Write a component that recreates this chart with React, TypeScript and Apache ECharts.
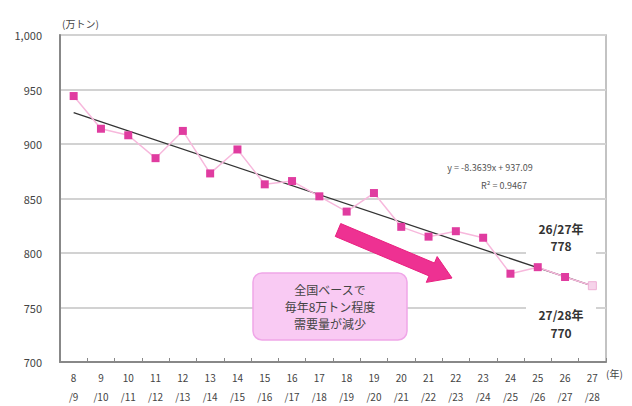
import React, { useEffect, useRef } from "react";
import * as echarts from "echarts";

const categories = [
  "8\n/9", "9\n/10", "10\n/11", "11\n/12", "12\n/13", "13\n/14", "14\n/15",
  "15\n/16", "16\n/17", "17\n/18", "18\n/19", "19\n/20", "20\n/21", "21\n/22",
  "22\n/23", "23\n/24", "24\n/25", "25\n/26", "26\n/27", "27\n/28",
];
const actual = [944, 914, 908, 887, 912, 873, 895, 863, 866, 852, 838, 855, 824, 815, 820, 814, 781, 787, 778];
const forecast = [778, 770];
const trendEnds = [928.7, 769.8];
const yTicks = [700, 750, 800, 850, 900, 950, 1000];

export default function App() {
  const ref = useRef<HTMLDivElement>(null);
  useEffect(() => {
    document.body.style.margin = "0";
    const chart = echarts.init(ref.current!, null, { renderer: "svg" });
    const n = categories.length;
    const actualData = categories.map((_, i) => (i < actual.length ? actual[i] : null));
    const forecastData: any[] = categories.map(() => null);
    forecastData[n - 2] = { value: forecast[0], symbol: "none" };
    forecastData[n - 1] = forecast[1];
    const trendData: any[] = categories.map(() => null);
    trendData[0] = trendEnds[0];
    trendData[n - 1] = trendEnds[1];
    const font = "'Noto Sans CJK JP', 'Noto Sans', sans-serif";

    // arrow geometry
    const S = [338, 230], T = [452, 278];
    const dx = T[0] - S[0], dy = T[1] - S[1];
    const L = Math.hypot(dx, dy);
    const u = [dx / L, dy / L], nn = [-u[1], u[0]];
    const H = [S[0] + u[0] * (L - 22), S[1] + u[1] * (L - 22)];
    const p = (b: number[], k: number) => [b[0] + nn[0] * k, b[1] + nn[1] * k];
    const arrowPts = [p(S, 7), p(S, -7), p(H, -7), p(H, -14), T, p(H, 14), p(H, 7)];

    chart.setOption({
      animation: false,
      backgroundColor: "#fff",
      textStyle: { fontFamily: font },
      grid: { left: 60, right: 26, top: 35, bottom: 42, show: true, borderColor: "#b0b0b0", borderWidth: 1.5 },
      xAxis: {
        type: "category",
        data: categories,
        boundaryGap: true,
        axisLine: { lineStyle: { color: "#888", width: 2 } },
        axisTick: { show: true, inside: true, length: 4, lineStyle: { color: "#888" } },
        axisLabel: { color: "#444", fontSize: 10, lineHeight: 19, margin: 6, interval: 0 },
      },
      yAxis: {
        type: "value",
        min: yTicks[0],
        max: yTicks[yTicks.length - 1],
        interval: 50,
        axisLine: { show: true, lineStyle: { color: "#888", width: 2 } },
        axisTick: { show: false },
        axisLabel: {
          color: "#444",
          fontSize: 11,
          margin: 18,
          formatter: (v: number) => v.toLocaleString("en-US"),
        },
        splitLine: { lineStyle: { color: "#d2d2d2", width: 2 } },
      },
      series: [
        {
          type: "line",
          data: trendData,
          connectNulls: true,
          symbol: "none",
          lineStyle: { color: "#333", width: 1.3 },
          z: 2,
        },
        {
          type: "line",
          data: forecastData,
          connectNulls: true,
          symbol: "rect",
          symbolSize: 8,
          itemStyle: { color: "#f6d3ea", borderColor: "#eeb0d6", borderWidth: 1 },
          lineStyle: { color: "#f7b8dc", width: 1.5 },
          z: 3,
        },
        {
          type: "line",
          data: actualData,
          symbol: "rect",
          symbolSize: 8,
          itemStyle: { color: "#e03ca0" },
          lineStyle: { color: "#f7b8dc", width: 1.5 },
          z: 4,
        },
      ],
      graphic: [
        { type: "text", left: 62, top: 18, style: { text: "(万トン)", fontSize: 10, fill: "#444", fontFamily: font } },
        { type: "text", left: 606, top: 368, style: { text: "(年)", fontSize: 10, fill: "#444", fontFamily: font } },
        { type: "text", x: 490, y: 167, style: { text: "y = -8.3639x + 937.09", fontSize: 9, fill: "#555", align: "center", verticalAlign: "middle", fontFamily: font } },
        { type: "text", x: 504, y: 185, style: { text: "R² = 0.9467", fontSize: 9, fill: "#555", align: "center", verticalAlign: "middle", fontFamily: font } },
        { type: "rect", shape: { x: 526, y: 216, width: 70, height: 42 }, style: { fill: "#fff" }, z: 10 },
        { type: "text", x: 561, y: 228, z: 11, style: { text: "26/27年", fontSize: 12, fontWeight: "bold", fill: "#333", align: "center", verticalAlign: "middle", fontFamily: font } },
        { type: "text", x: 561, y: 245, z: 11, style: { text: "778", fontSize: 12, fontWeight: "bold", fill: "#333", align: "center", verticalAlign: "middle", fontFamily: font } },
        { type: "rect", shape: { x: 526, y: 302, width: 70, height: 42 }, style: { fill: "#fff" }, z: 10 },
        { type: "text", x: 561, y: 314, z: 11, style: { text: "27/28年", fontSize: 12, fontWeight: "bold", fill: "#333", align: "center", verticalAlign: "middle", fontFamily: font } },
        { type: "text", x: 561, y: 332, z: 11, style: { text: "770", fontSize: 12, fontWeight: "bold", fill: "#333", align: "center", verticalAlign: "middle", fontFamily: font } },
        { type: "polygon", z: 12, shape: { points: arrowPts }, style: { fill: "#ee3192", stroke: "#e8207f", lineWidth: 1 } },
        { type: "rect", z: 12, shape: { x: 253, y: 273, width: 154, height: 67, r: 9 }, style: { fill: "#f9caf3", stroke: "#f0a6e8", lineWidth: 1.5 } },
        { type: "text", z: 13, x: 330, y: 289, style: { text: "全国ベースで", fontSize: 12, fill: "#444", align: "center", verticalAlign: "middle", fontFamily: font } },
        { type: "text", z: 13, x: 330, y: 306, style: { text: "毎年8万トン程度", fontSize: 12, fill: "#444", align: "center", verticalAlign: "middle", fontFamily: font } },
        { type: "text", z: 13, x: 330, y: 323, style: { text: "需要量が減少", fontSize: 12, fill: "#444", align: "center", verticalAlign: "middle", fontFamily: font } },
      ],
    });
    return () => chart.dispose();
  }, []);
  return <div ref={ref} style={{ width: 632, height: 406 }} />;
}
